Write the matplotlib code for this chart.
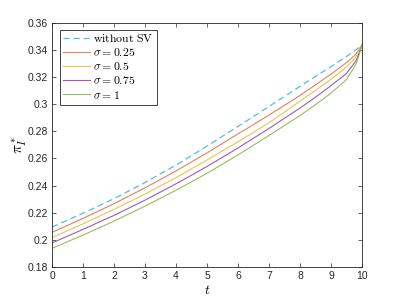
import numpy as np
import matplotlib
matplotlib.use('Agg')
import matplotlib.pyplot as plt
from matplotlib.ticker import FuncFormatter

plt.rcParams['mathtext.fontset'] = 'cm'
plt.rcParams['font.family'] = ['Liberation Sans', 'DejaVu Sans']

t = [0, 1, 2, 3, 4, 5, 6, 7, 8, 8.5, 9, 9.5, 9.8, 9.9, 10]
no_sv = [0.2094, 0.2196, 0.2303, 0.2422, 0.2550, 0.2690, 0.2835, 0.2982, 0.3130, 0.3203, 0.3275, 0.3350, 0.3398, 0.3416, 0.3435]
sig_025 = [0.2055, 0.2158, 0.2266, 0.2383, 0.2507, 0.2640, 0.2780, 0.2918, 0.3063, 0.3141, 0.3220, 0.3305, 0.3365, 0.3400, 0.3435]
sig_05 = [0.2016, 0.2118, 0.2224, 0.2337, 0.2458, 0.2588, 0.2722, 0.2862, 0.3020, 0.3100, 0.3182, 0.3272, 0.3345, 0.3387, 0.3435]
sig_075 = [0.1977, 0.2077, 0.2180, 0.2292, 0.2412, 0.2540, 0.2676, 0.2820, 0.2970, 0.3050, 0.3135, 0.3225, 0.3315, 0.3370, 0.3435]
sig_1 = [0.1937, 0.2035, 0.2138, 0.2248, 0.2365, 0.2490, 0.2625, 0.2768, 0.2915, 0.2995, 0.3080, 0.3180, 0.3290, 0.3355, 0.3435]

fig = plt.figure(figsize=(4, 3), dpi=100)
ax = fig.add_axes([0.13, 0.11, 0.775, 0.815])

ax.plot(t, no_sv, '--', color='#4DBEEE', lw=0.9, dashes=(5, 3), label=r'$\mathrm{without\ SV}$')
ax.plot(t, sig_025, color='#E8805A', lw=0.8, label=r'$\sigma=0.25$')
ax.plot(t, sig_05, color='#F0C350', lw=0.8, label=r'$\sigma=0.5$')
ax.plot(t, sig_075, color='#A05AB4', lw=0.8, label=r'$\sigma=0.75$')
ax.plot(t, sig_1, color='#92C05A', lw=0.8, label=r'$\sigma=1$')

ax.set_xlim(0, 10)
ax.set_ylim(0.18, 0.36)
ax.set_xticks(range(0, 11))
ax.set_yticks(np.arange(0.18, 0.3601, 0.02))
ax.yaxis.set_major_formatter(FuncFormatter(lambda v, p: '{:g}'.format(round(v, 2))))
ax.tick_params(direction='in', length=3, width=0.5, top=True, right=True,
               labelsize=7.5, colors='#262626', pad=3)
for s in ax.spines.values():
    s.set_linewidth(0.6)
    s.set_color('#262626')

ax.set_xlabel(r'$t$', fontsize=10, labelpad=1)
ax.set_ylabel(r'$\pi_I^*$', fontsize=11)
ax.yaxis.set_label_coords(-0.075, 0.5)

leg = ax.legend(loc='upper left', fontsize=8.5, handlelength=2.3, handletextpad=0.3,
                borderpad=0.25, labelspacing=0.18, fancybox=False, framealpha=1,
                borderaxespad=0.65)
leg.get_frame().set_edgecolor('#262626')
leg.get_frame().set_linewidth(0.6)

fig.savefig('out.png', dpi=100)
